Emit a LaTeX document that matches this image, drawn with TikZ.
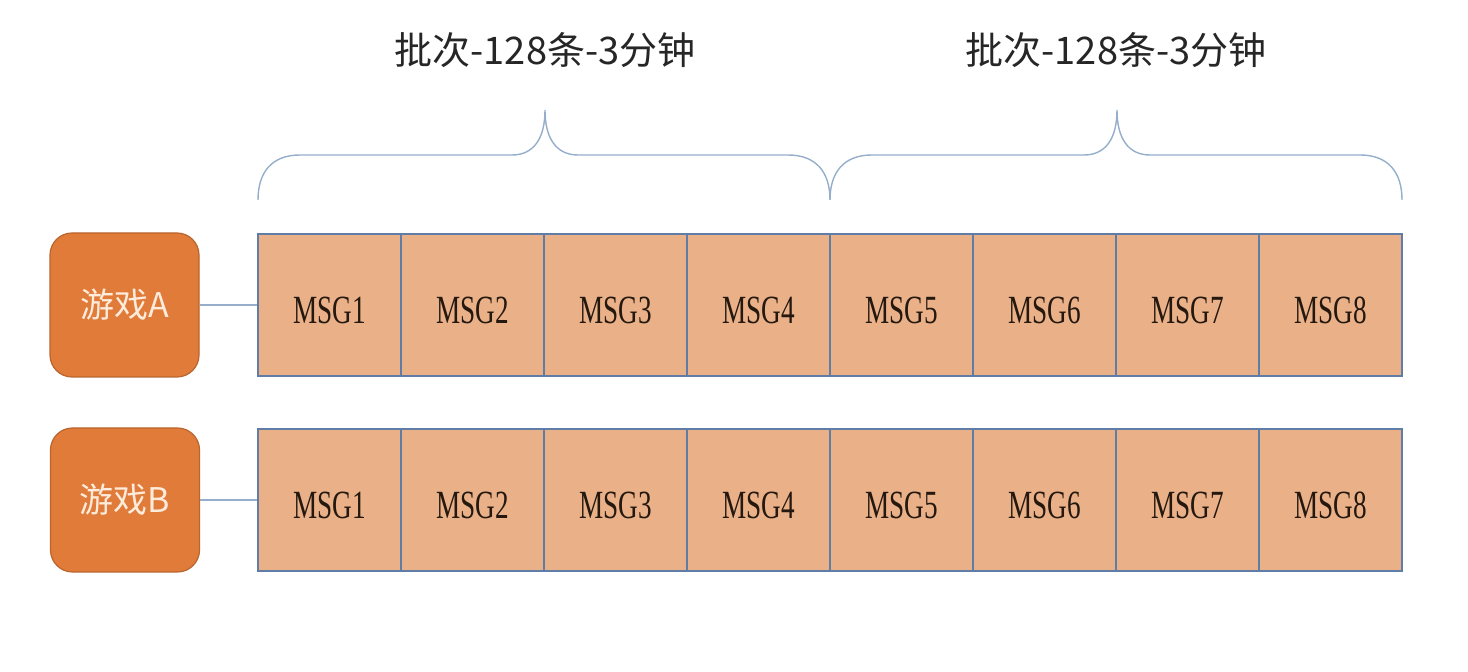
\documentclass[tikz,border=0pt]{standalone}
\usepackage{fontspec}
\usepackage{graphicx}
\setmainfont{Liberation Serif}
\newfontfamily\cjk{Noto Sans CJK SC}
\definecolor{gamefill}{HTML}{E07B39}
\definecolor{gameedge}{HTML}{B9652E}
\definecolor{gametext}{HTML}{FDEBDC}
\definecolor{cellfill}{HTML}{EAB189}
\definecolor{celledge}{HTML}{5F7DA6}
\definecolor{bracecol}{HTML}{95AECB}
\definecolor{msgtext}{HTML}{24180F}
\definecolor{titletext}{HTML}{262626}
\newcommand{\msglabel}[1]{\raisebox{-9.1pt}[0pt][0pt]{\scalebox{0.68}[1]{#1}}}
\begin{document}
\begin{tikzpicture}[x=0.5pt,y=-0.5pt,
  game/.style={draw=gameedge,line width=0.6pt,fill=gamefill,rounded corners=11pt,
    minimum width=74.5pt,minimum height=72pt,inner sep=0pt,
    font=\cjk\fontsize{17}{20}\selectfont,text=gametext},
  cell/.style={draw=celledge,line width=1pt,fill=cellfill,
    minimum width=71.5pt,minimum height=71pt,inner sep=0pt,
    font=\fontsize{20}{23}\selectfont,text=msgtext},
  link/.style={draw=bracecol,line width=0.7pt},
  brace/.style={draw=bracecol,line width=0.7pt},
  title/.style={font=\cjk\fontsize{19}{22}\selectfont,text=titletext,inner sep=0pt}]
\useasboundingbox (0,0) rectangle (1468,672);
% titles
\node[title] (t1) at (545,50) {批次-128条-3分钟};
\node[title] (t2) at (1116,50) {批次-128条-3分钟};
% braces
\foreach \o in {0,572}{
  \draw[brace] (258+\o,200) .. controls (258+\o,172) and (272+\o,155) .. (300+\o,155)
    -- (512+\o,155) .. controls (534+\o,155) and (545+\o,138) .. (545+\o,110)
    .. controls (545+\o,138) and (556+\o,155) .. (578+\o,155)
    -- (788+\o,155) .. controls (816+\o,155) and (830+\o,172) .. (830+\o,200);
}
% game boxes
\node[game] (ga) at (124.5,305) {游戏A};
\node[game] (gb) at (125,500) {游戏B};
% cells
\foreach \i in {1,...,8}{
  \node[cell] (a\i) at (186.5+143*\i,305) {\msglabel{MSG\i}};
  \node[cell] (b\i) at (186.5+143*\i,500) {\msglabel{MSG\i}};
}
% connectors
\draw[link] (ga.east) -- (a1.west);
\draw[link] (gb.east) -- (b1.west);
\end{tikzpicture}
\end{document}
